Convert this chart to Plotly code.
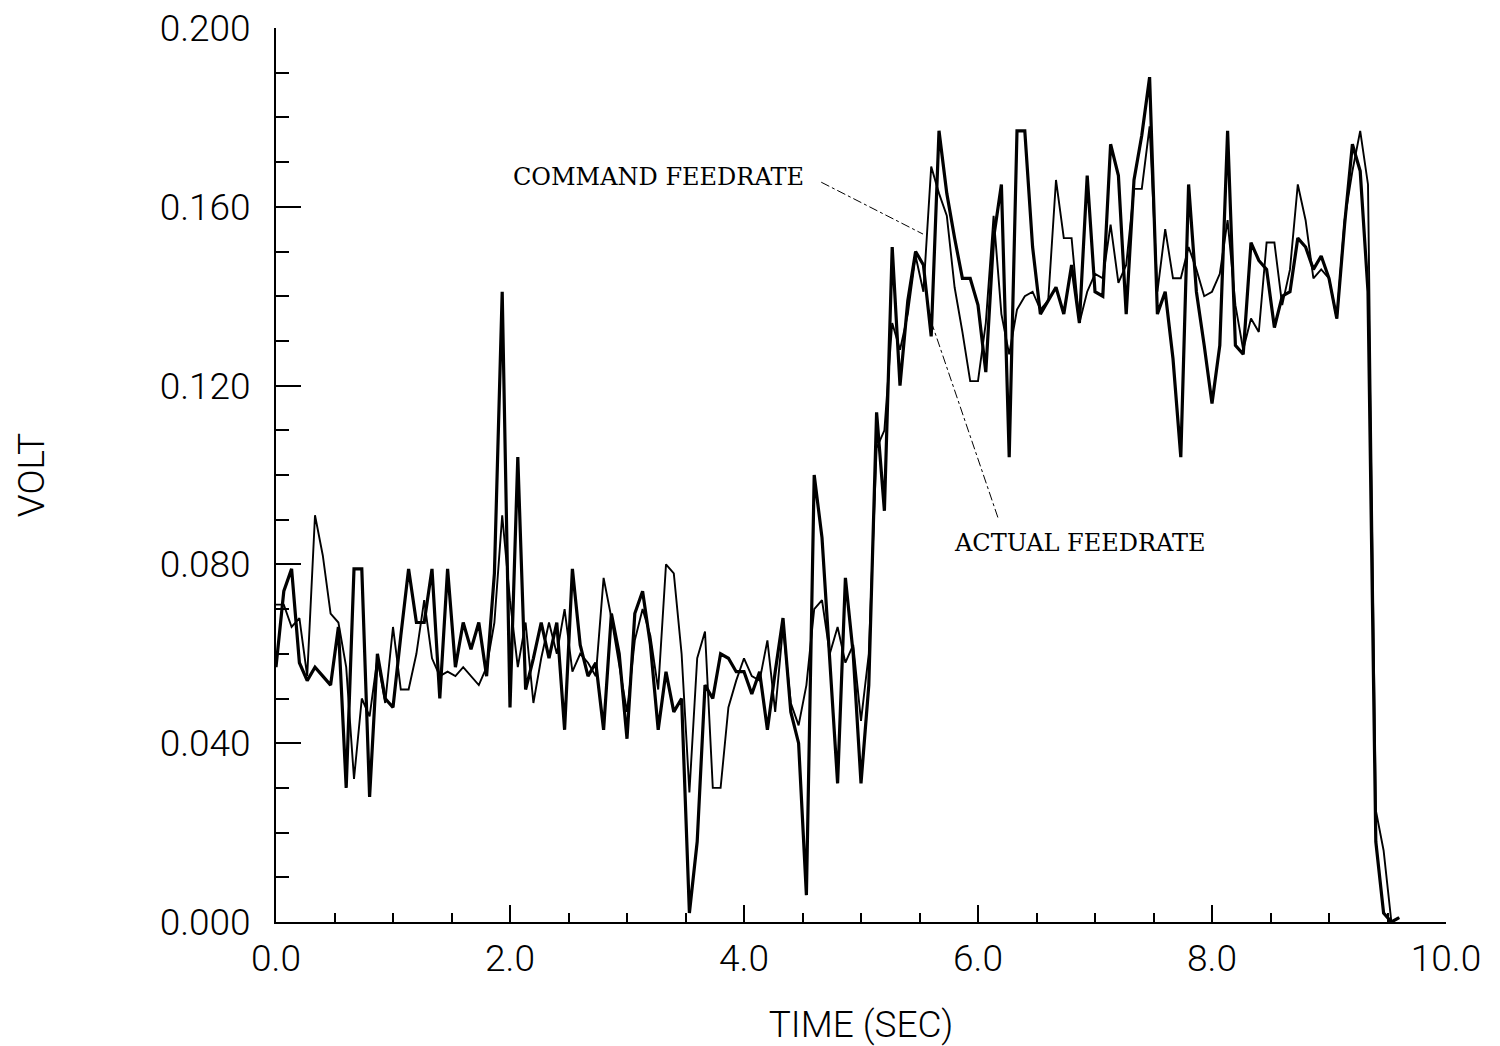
import plotly.graph_objects as go

# Sampling: 15 samples per second
dt = 1.0 / 15.0

# Thick trace
volt_a = [0.057, 0.074, 0.079, 0.058, 0.054, 0.057, 0.055, 0.053, 0.066, 0.030,
          0.079, 0.079, 0.028, 0.060, 0.050, 0.048, 0.064, 0.079, 0.067, 0.067,
          0.079, 0.050, 0.079, 0.057, 0.067, 0.061, 0.067, 0.055, 0.078, 0.141,
          0.048, 0.104, 0.052, 0.059, 0.067, 0.059, 0.067, 0.043, 0.079, 0.062,
          0.055, 0.058, 0.043, 0.069, 0.060, 0.041, 0.069, 0.074, 0.062, 0.043,
          0.056, 0.047, 0.050, 0.002, 0.018, 0.053, 0.050, 0.060, 0.059, 0.056,
          0.056, 0.051, 0.056, 0.043, 0.056, 0.068, 0.047, 0.040, 0.006, 0.100,
          0.086, 0.059, 0.031, 0.077, 0.060, 0.031, 0.053, 0.114, 0.092, 0.151,
          0.120, 0.139, 0.150, 0.147, 0.131, 0.177, 0.163, 0.153, 0.144, 0.144,
          0.138, 0.123, 0.153, 0.165, 0.104, 0.177, 0.177, 0.151, 0.136, 0.139,
          0.142, 0.136, 0.147, 0.134, 0.167, 0.141, 0.140, 0.174, 0.167, 0.136,
          0.166, 0.176, 0.189, 0.136, 0.141, 0.126, 0.104, 0.165, 0.141, 0.129,
          0.116, 0.129, 0.177, 0.129, 0.127, 0.152, 0.148, 0.146, 0.133, 0.140,
          0.141, 0.153, 0.151, 0.146, 0.149, 0.144, 0.135, 0.156, 0.174, 0.168,
          0.141, 0.018, 0.002, 0.000, 0.001]

# Thin trace
volt_b = [0.071, 0.071, 0.066, 0.068, 0.055, 0.091, 0.082, 0.069, 0.067, 0.057,
          0.032, 0.050, 0.046, 0.059, 0.049, 0.066, 0.052, 0.052, 0.060, 0.072,
          0.059, 0.055, 0.056, 0.055, 0.057, 0.055, 0.053, 0.057, 0.067, 0.091,
          0.072, 0.057, 0.067, 0.049, 0.059, 0.067, 0.060, 0.070, 0.056, 0.060,
          0.058, 0.055, 0.077, 0.068, 0.057, 0.047, 0.063, 0.070, 0.064, 0.052,
          0.080, 0.078, 0.060, 0.029, 0.059, 0.065, 0.030, 0.030, 0.048, 0.054,
          0.059, 0.055, 0.054, 0.063, 0.047, 0.066, 0.049, 0.044, 0.053, 0.070,
          0.072, 0.060, 0.066, 0.058, 0.062, 0.045, 0.060, 0.106, 0.110, 0.134,
          0.128, 0.136, 0.149, 0.141, 0.169, 0.163, 0.158, 0.142, 0.132, 0.121,
          0.121, 0.134, 0.158, 0.136, 0.127, 0.137, 0.140, 0.141, 0.137, 0.139,
          0.166, 0.153, 0.153, 0.134, 0.141, 0.145, 0.144, 0.156, 0.143, 0.147,
          0.164, 0.164, 0.178, 0.141, 0.155, 0.144, 0.144, 0.151, 0.146, 0.140,
          0.141, 0.145, 0.157, 0.138, 0.128, 0.135, 0.132, 0.152, 0.152, 0.138,
          0.146, 0.165, 0.157, 0.144, 0.146, 0.144, 0.135, 0.157, 0.168, 0.177,
          0.165, 0.025, 0.016, 0.000, 0.001]

time_a = [i * dt for i in range(len(volt_a))]
time_b = [i * dt for i in range(len(volt_b))]

y_ticks = [0.0, 0.04, 0.08, 0.12, 0.16, 0.20]
y_ticktext = ["0.000", "0.040", "0.080", "0.120", "0.160", "0.200"]
x_ticks = [0, 2, 4, 6, 8, 10]
x_ticktext = ["0.0", "2.0", "4.0", "6.0", "8.0", "10.0"]

labels = ["COMMAND FEEDRATE", "ACTUAL FEEDRATE"]
label_pos = [(3.27, 0.1667), (6.87, 0.0848)]
leader_from = [(4.66, 0.1655), (6.17, 0.0905)]
leader_to = [(5.53, 0.1539), (5.59, 0.1351)]

tick_font = dict(family="Roboto, Liberation Sans, sans-serif", size=37, color="black", weight=300)

fig = go.Figure()
fig.add_trace(go.Scatter(x=time_b, y=volt_b, mode="lines",
                         line=dict(color="black", width=1.9), showlegend=False))
fig.add_trace(go.Scatter(x=time_a, y=volt_a, mode="lines",
                         line=dict(color="black", width=3.2), showlegend=False))

for txt, (ax, ay) in zip(labels, label_pos):
    fig.add_annotation(x=ax, y=ay, xref="x", yref="y", text=txt, showarrow=False,
                       font=dict(family="DejaVu Serif", size=24, color="black"))
for (x0, y0), (x1, y1) in zip(leader_from, leader_to):
    fig.add_shape(type="line", x0=x0, y0=y0, x1=x1, y1=y1, xref="x", yref="y",
                  line=dict(color="black", width=1, dash="dashdot"))

fig.update_xaxes(range=[0, 10], tickvals=x_ticks, ticktext=x_ticktext,
                 ticks="inside", ticklen=17, tickwidth=2, tickcolor="black",
                 minor=dict(dtick=0.5, ticks="inside", ticklen=9, tickwidth=2, tickcolor="black"),
                 showline=True, linecolor="black", linewidth=2, mirror=False,
                 showgrid=False, zeroline=False, tickfont=tick_font, automargin=False,
                 ticklabelstandoff=3,
                 title=dict(text="TIME (SEC)", font=tick_font, standoff=32))
fig.update_yaxes(range=[0, 0.2], tickvals=y_ticks, ticktext=y_ticktext,
                 ticks="inside", ticklen=25, tickwidth=2, tickcolor="black",
                 minor=dict(dtick=0.01, ticks="inside", ticklen=13, tickwidth=2, tickcolor="black"),
                 showline=True, linecolor="black", linewidth=2, mirror=False,
                 showgrid=False, zeroline=False, tickfont=tick_font, automargin=False,
                 ticklabelstandoff=16,
                 title=dict(text="VOLT", font=tick_font, standoff=104))

fig.update_layout(width=1500, height=1046,
                  margin=dict(l=276, r=54, t=28, b=124, autoexpand=False),
                  paper_bgcolor="white", plot_bgcolor="white")

fig.write_html("out.html")
